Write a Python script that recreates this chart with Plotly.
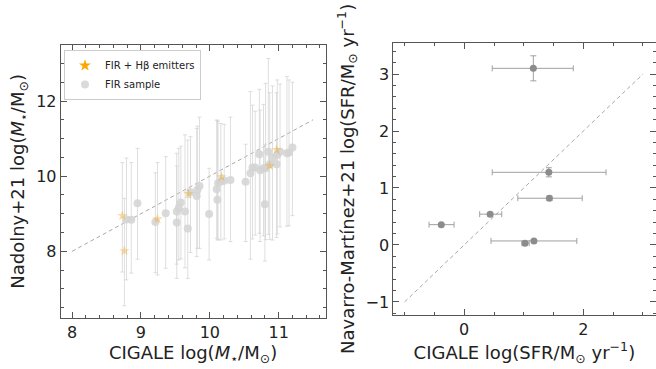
import plotly.graph_objects as go

# ---------------- Left panel data (stellar mass) ----------------
fir_x = [8.79, 8.86, 8.95, 9.21, 9.36, 9.52, 9.52, 9.55, 9.58, 9.64, 9.68, 9.72, 9.81, 9.82, 9.85,
         9.99, 10.11, 10.10, 10.12, 10.16, 10.21, 10.30, 10.52, 10.59, 10.62, 10.66, 10.73, 10.72,
         10.78, 10.81, 10.80, 10.85, 10.87, 10.91, 10.97, 10.98, 11.02, 11.12, 11.15, 11.20]
fir_y = [8.85, 8.84, 9.28, 8.78, 9.01, 8.77, 9.06, 9.16, 9.30, 9.06, 8.61, 9.57, 9.47, 9.63, 9.74,
         8.99, 9.37, 9.65, 9.81, 9.86, 9.88, 9.90, 9.85, 10.08, 10.23, 10.23, 10.16, 10.58,
         10.21, 10.21, 9.25, 10.65, 10.32, 10.48, 10.32, 10.56, 10.65, 10.61, 10.63, 10.76]
fir_hi = [1.63, 1.52, 1.46, 1.31, 1.51, 1.50, 1.55, 1.58, 1.50, 2.04, 2.35, 1.48, 1.80, 1.70, 1.83,
          1.22, 2.12, 1.84, 1.64, 1.54, 1.50, 1.67, 1.00, 2.17, 1.66, 1.50, 1.60, 1.73,
          1.70, 2.26, 1.60, 2.48, 1.90, 1.92, 1.90, 2.00, 1.80, 2.04, 1.93, 1.74]
fir_lo = [1.61, 1.42, 1.49, 1.35, 1.46, 1.49, 1.40, 1.39, 1.50, 1.50, 1.33, 1.60, 1.61, 1.55, 1.66,
          1.22, 1.07, 1.30, 1.50, 1.56, 1.55, 1.64, 1.59, 2.29, 1.90, 1.80, 1.90, 2.10,
          1.80, 1.90, 1.51, 2.20, 2.00, 2.18, 1.95, 2.10, 2.00, 1.94, 1.95, 1.81]

hb_x = [8.73, 8.76, 9.24, 9.69, 10.17, 10.87, 10.97]
hb_y = [8.95, 8.01, 8.86, 9.53, 9.98, 10.28, 10.70]
hb_hi = [1.41, 1.40, 1.50, 0.10, 0.05, 0.05, 0.04]
hb_lo = [1.50, 1.46, 1.49, 0.10, 0.05, 0.05, 0.04]

# ---------------- Right panel data (SFR) ----------------
sfr_x = [1.16, 1.42, 1.43, 0.435, -0.385, 1.17, 1.02]
sfr_y = [3.10, 1.275, 0.82, 0.54, 0.356, 0.07, 0.03]
sfr_xlo = [0.69, 0.95, 0.53, 0.175, 0.205, 0.72, 0.05]
sfr_xhi = [0.67, 0.96, 0.55, 0.195, 0.215, 0.72, 0.07]
sfr_ylo = [0.22, 0.08, 0.04, 0.03, 0.02, 0.02, 0.02]
sfr_yhi = [0.22, 0.08, 0.04, 0.03, 0.02, 0.02, 0.02]

line1 = [8.0, 11.5]
line2 = [-1.0, 3.0]

fig = go.Figure()

fig.add_trace(go.Scatter(
    x=line1, y=line1, mode="lines", line=dict(color="#a8a8a8", width=1, dash="4px,3px"),
    showlegend=False, xaxis="x", yaxis="y"))

fig.add_trace(go.Scatter(
    x=fir_x, y=fir_y, mode="markers", name="FIR sample",
    marker=dict(color="rgba(211,211,211,0.85)", size=8, line=dict(width=0)),
    error_y=dict(type="data", symmetric=False, array=fir_hi, arrayminus=fir_lo,
                 color="rgba(211,211,211,0.75)", thickness=1, width=2),
    xaxis="x", yaxis="y"))

fig.add_trace(go.Scatter(
    x=hb_x, y=hb_y, mode="markers", showlegend=False,
    marker=dict(color="rgba(240,170,40,0.4)", size=8, symbol="star", line=dict(width=0)),
    error_y=dict(type="data", symmetric=False, array=hb_hi, arrayminus=hb_lo,
                 color="rgba(211,211,211,0.75)", thickness=1, width=2),
    xaxis="x", yaxis="y"))

# legend entry for the star markers (full colour, as in the legend)
fig.add_trace(go.Scatter(
    x=[None], y=[None], mode="markers", name="FIR + H\u03b2 emitters",
    marker=dict(color="#ffa500", size=9, symbol="star", line=dict(width=0)),
    xaxis="x", yaxis="y"))

fig.add_trace(go.Scatter(
    x=line2, y=line2, mode="lines", line=dict(color="#a8a8a8", width=1, dash="4px,3px"),
    showlegend=False, xaxis="x2", yaxis="y2"))

fig.add_trace(go.Scatter(
    x=sfr_x, y=sfr_y, mode="markers", showlegend=False,
    marker=dict(color="#8c8c8c", size=7),
    error_x=dict(type="data", symmetric=False, array=sfr_xhi, arrayminus=sfr_xlo,
                 color="#a0a0a0", thickness=1, width=3),
    error_y=dict(type="data", symmetric=False, array=sfr_yhi, arrayminus=sfr_ylo,
                 color="#a0a0a0", thickness=1, width=3),
    xaxis="x2", yaxis="y2"))

axcol = "#555555"
font = "DejaVu Sans"
common = dict(showline=True, linecolor=axcol, linewidth=1, mirror="allticks",
              ticks="inside", ticklen=6, tickcolor=axcol, showgrid=False, zeroline=False,
              tickfont=dict(size=16, color="#222", family=font))

fig.update_layout(
    width=656, height=369, margin=dict(l=0, r=0, t=0, b=0),
    paper_bgcolor="white", plot_bgcolor="white",
    font=dict(family=font, color="#222"),
    xaxis=dict(domain=[60.7 / 656, 325.5 / 656], range=[7.835, 11.68], dtick=1, tick0=0,
               minor=dict(ticks="inside", ticklen=3, dtick=0.2, tick0=0, tickcolor=axcol),
               title=dict(text="CIGALE log(<i>M</i><sub>\u22c6</sub>/M<sub>\u2299</sub>)",
                          font=dict(size=18), standoff=5),
               anchor="y", **common),
    yaxis=dict(domain=[1 - 317.7 / 369, 1 - 45 / 369], range=[6.234, 13.49], dtick=2, tick0=0,
               minor=dict(ticks="inside", ticklen=3, dtick=0.5, tick0=0, tickcolor=axcol),
               title=dict(text="Nadolny+21 log(<i>M</i><sub>\u22c6</sub>/M<sub>\u2299</sub>)",
                          font=dict(size=18), standoff=6),
               anchor="x", **common),
    xaxis2=dict(domain=[393.3 / 656, 655.5 / 656], range=[-1.19, 3.21], dtick=2, tick0=0,
                minor=dict(ticks="inside", ticklen=3, dtick=0.5, tick0=0, tickcolor=axcol),
                title=dict(text="CIGALE log(SFR/M<sub>\u2299</sub> yr<sup>\u22121</sup>)",
                           font=dict(size=18), standoff=5),
                anchor="y2", **common),
    yaxis2=dict(domain=[1 - 315 / 369, 1 - 42.7 / 369], range=[-1.23, 3.55], dtick=1, tick0=0,
                minor=dict(ticks="inside", ticklen=3, dtick=0.2, tick0=0, tickcolor=axcol),
                title=dict(text="Navarro-Mart\u00ednez+21 log(SFR/M<sub>\u2299</sub> yr<sup>\u22121</sup>)",
                           font=dict(size=18), standoff=6),
                anchor="x2", **common),
    legend=dict(x=64 / 656, y=1 - 50 / 369, xanchor="left", yanchor="top",
                bgcolor="rgba(255,255,255,0.9)", bordercolor="#cccccc", borderwidth=1,
                font=dict(size=10, family=font, color="#222"), traceorder="reversed",
                itemwidth=30, tracegroupgap=0),
)

fig.write_html("out.html")
